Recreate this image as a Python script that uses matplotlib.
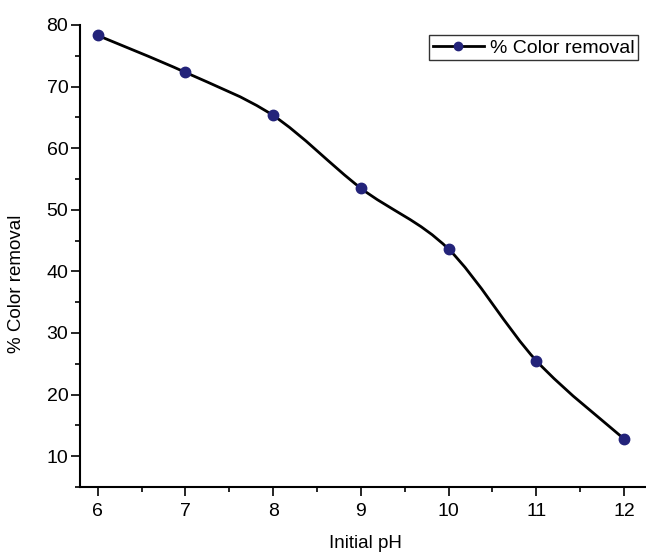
import matplotlib
matplotlib.use("Agg")
import matplotlib.pyplot as plt
import numpy as np
from matplotlib.path import Path
from matplotlib.patches import PathPatch
from matplotlib.lines import Line2D
from matplotlib.ticker import MultipleLocator

plt.rcParams['font.family'] = ['Liberation Sans', 'DejaVu Sans']

# Daten
ph = [6, 7, 8, 9, 10, 11, 12]
color_removal = [78.3, 72.3, 65.3, 53.5, 43.6, 25.5, 12.8]

fig = plt.figure(figsize=(6.46, 5.54), dpi=100)
ax = fig.add_axes([0.124, 0.121, 0.876, 0.834])

# glatte Kurve (Catmull-Rom als Bezier) durch die Messpunkte
x = np.array(ph, dtype=float)
y = np.array(color_removal, dtype=float)
verts = [(x[0], y[0])]
codes = [Path.MOVETO]
for i in range(len(x) - 1):
    x0, y0 = (x[i - 1], y[i - 1]) if i > 0 else (x[i], y[i])
    x3, y3 = (x[i + 2], y[i + 2]) if i + 2 < len(x) else (x[i + 1], y[i + 1])
    c1 = (x[i] + (x[i + 1] - x0) / 6, y[i] + (y[i + 1] - y0) / 6)
    c2 = (x[i + 1] - (x3 - x[i]) / 6, y[i + 1] - (y3 - y[i]) / 6)
    verts += [c1, c2, (x[i + 1], y[i + 1])]
    codes += [Path.CURVE4] * 3
ax.add_patch(PathPatch(Path(verts, codes), facecolor="none", edgecolor="black", lw=2, zorder=2))
ax.plot(ph, color_removal, linestyle="none", marker="o", markersize=7.5,
        color="#23237a", zorder=3)

ax.set_xlim(5.8, 12.25)
ax.set_ylim(5, 80)
ax.xaxis.set_major_locator(MultipleLocator(1))
ax.xaxis.set_minor_locator(MultipleLocator(0.5))
ax.yaxis.set_major_locator(MultipleLocator(10))
ax.yaxis.set_minor_locator(MultipleLocator(5))
ax.spines["top"].set_visible(False)
ax.spines["right"].set_visible(False)
ax.spines["left"].set_linewidth(1.5)
ax.spines["bottom"].set_linewidth(1.5)
ax.tick_params(which="major", direction="out", length=6.5, width=1.2, labelsize=14)
ax.tick_params(axis="y", which="major", pad=2)
ax.tick_params(axis="x", which="major", pad=5)
ax.tick_params(which="minor", direction="out", length=3.5, width=1.2)

ax.set_xlabel("Initial pH", fontsize=13.5)
ax.set_ylabel("% Color removal", fontsize=13.5)
ax.xaxis.set_label_coords(0.505, -0.105)
ax.yaxis.set_label_coords(-0.097, 0.44)

handle = Line2D([], [], color="black", lw=2, marker="o", markersize=6,
                markerfacecolor="#23237a", markeredgecolor="#23237a")
leg = ax.legend([handle], ["% Color removal"], loc="upper right",
                bbox_to_anchor=(0.986, 0.978), borderaxespad=0, fontsize=14,
                frameon=True, fancybox=False, edgecolor="black",
                handlelength=2.6, borderpad=0.2, handletextpad=0.3)
leg.get_frame().set_linewidth(1)

fig.savefig("out.png", dpi=100)
